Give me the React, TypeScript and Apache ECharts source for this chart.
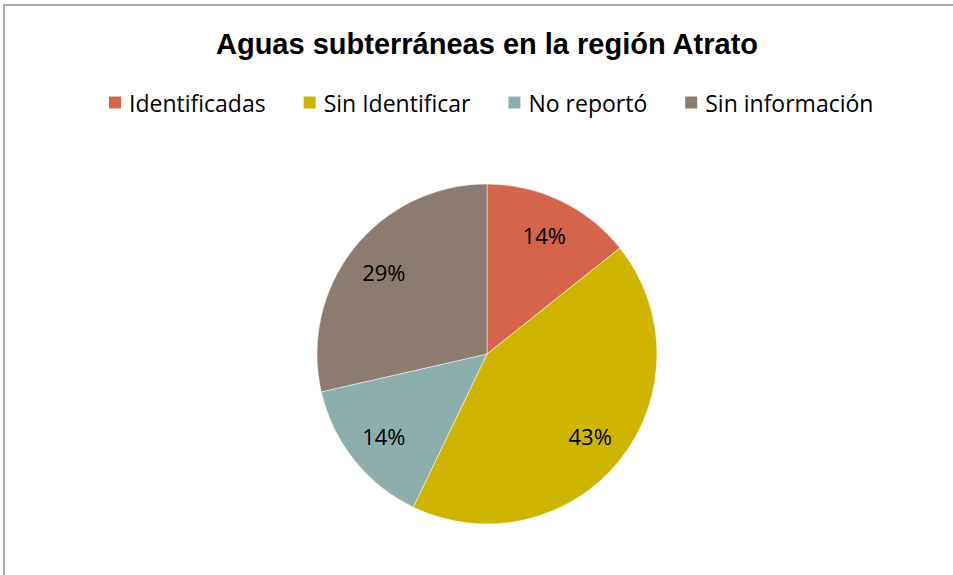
import React, { useEffect, useRef } from "react";
import * as echarts from "echarts";

const titleText = "Aguas subterráneas en la región Atrato";
const categories = ["Identificadas", "Sin Identificar", "No reportó", "Sin información"];
const values = [1, 3, 1, 2];
const colors = ["#D4654B", "#CFB500", "#8CAEAD", "#8C7B70"];

export default function App() {
  const ref = useRef<HTMLDivElement>(null);
  useEffect(() => {
    if (!ref.current) return;
    const chart = echarts.init(ref.current, null, { renderer: "svg" });
    const data = categories.map((name, i) => ({ name, value: values[i] }));
    const legendFont = "'Open Sans', 'Noto Sans', sans-serif";
    chart.setOption({
      animation: false,
      backgroundColor: "#ffffff",
      color: colors,
      title: {
        text: titleText,
        left: 211,
        top: 24,
        textStyle: {
          fontFamily: "'Liberation Sans', Arial, sans-serif",
          fontWeight: "bold",
          fontSize: 29,
          color: "#000",
        },
      },
      legend: {
        data: categories,
        top: 86,
        left: 102,
        icon: "rect",
        itemWidth: 14,
        itemHeight: 14,
        itemGap: 36,
        textStyle: { fontFamily: legendFont, fontSize: 23, color: "#000", padding: [0, 0, 0, 2] },
      },
      graphic: [
        {
          type: "rect",
          shape: { x: 4, y: 5, width: 1200, height: 1200 },
          style: { fill: "none", stroke: "#8f8f8f", lineWidth: 1.5 },
          silent: true,
        },
      ],
      series: [
        {
          type: "pie",
          center: [487, 354],
          radius: [0, 170],
          startAngle: 90,
          clockwise: true,
          data,
          label: { show: false },
          labelLine: { show: false },
          itemStyle: { borderColor: "#ffffff", borderWidth: 0.5 },
          emphasis: { disabled: true },
        },
        {
          type: "pie",
          center: [487, 354],
          radius: [0, 258],
          startAngle: 90,
          clockwise: true,
          silent: true,
          data,
          itemStyle: { color: "transparent" },
          label: {
            show: true,
            position: "inside",
            formatter: (p: any) => Math.round(p.percent) + "%",
            fontFamily: legendFont,
            fontSize: 22,
            color: "#000",
          },
          labelLine: { show: false },
          emphasis: { disabled: true },
        },
      ],
    });
    return () => chart.dispose();
  }, []);
  return (
    <div
      ref={ref}
      style={{ position: "fixed", left: 0, top: 0, width: 953, height: 575 }}
    />
  );
}
